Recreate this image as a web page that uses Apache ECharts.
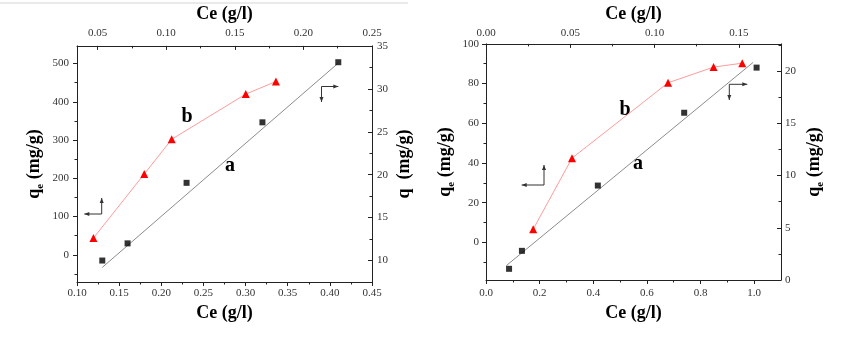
<!DOCTYPE html>
<html>
<head>
<meta charset="utf-8">
<script src="https://cdn.jsdelivr.net/npm/echarts@6/dist/echarts.min.js"></script>
<style>
  html, body { margin: 0; padding: 0; background: #fff; }
  #chart { width: 842px; height: 338px; }
</style>
</head>
<body>
<div id="chart"></div>
<script>
// left panel: b uses top x / left y, a uses bottom x / right y
const leftBX = [0.047, 0.084, 0.104, 0.158, 0.180];
const leftBY = [44, 211, 302, 420, 453];
const leftAX = [0.130, 0.160, 0.230, 0.320, 0.410];
const leftAY = [10.0, 12.0, 19.05, 26.1, 33.1];
const leftFitX = [0.13, 0.41];
const leftFitY = [9.2, 33.0];

// right panel
const rightBX = [0.028, 0.051, 0.108, 0.135, 0.152];
const rightBY = [6.6, 42.4, 80.4, 88.3, 90.3];
const rightAX = [0.086, 0.134, 0.417, 0.739, 1.009];
const rightAY = [1.07, 2.79, 9.04, 16.01, 20.33];
const rightFitX = [0.076, 0.996];
const rightFitY = [1.38, 20.83];

// tick values
const lBottomTicks = [0.10, 0.15, 0.20, 0.25, 0.30, 0.35, 0.40, 0.45];
const lBottomMinor = [0.125, 0.175, 0.225, 0.275, 0.325, 0.375, 0.425];
const lTopTicks = [0.05, 0.10, 0.15, 0.20, 0.25];
const lTopMinor = [0.075, 0.125, 0.175, 0.225];
const lLeftTicks = [0, 100, 200, 300, 400, 500];
const lLeftMinor = [-50, 50, 150, 250, 350, 450];
const lRightTicks = [10, 15, 20, 25, 30, 35];
const lRightMinor = [12.5, 17.5, 22.5, 27.5, 32.5];

const rBottomTicks = [0.0, 0.2, 0.4, 0.6, 0.8, 1.0];
const rBottomMinor = [0.1, 0.3, 0.5, 0.7, 0.9];
const rTopTicks = [0.00, 0.05, 0.10, 0.15];
const rTopMinor = [0.025, 0.075, 0.125];
const rLeftTicks = [0, 20, 40, 60, 80, 100];
const rLeftMinor = [-10, 10, 30, 50, 70, 90];
const rRightTicks = [0, 5, 10, 15, 20];
const rRightMinor = [2.5, 7.5, 12.5, 17.5, 22.5];

const SERIF = '"Liberation Serif", "DejaVu Serif", serif';
const AXIS_COLOR = '#222';

const zip = (xs, ys) => xs.map((x, i) => [x, ys[i]]);

const titleRich = {
  a: { fontFamily: SERIF, fontSize: 18, fontWeight: 'bold', color: '#000' },
  b: { fontFamily: SERIF, fontSize: 11, fontWeight: 'bold', color: '#000', padding: [12, 0, 0, 0] }
};

function axisPair(o) {
  const major = {
    type: 'value', gridIndex: o.grid, position: o.position, min: o.min, max: o.max,
    axisLine: { show: true, onZero: false, lineStyle: { color: AXIS_COLOR, width: 1 } },
    axisTick: { show: true, inside: o.inside, length: 4, customValues: o.major, lineStyle: { color: AXIS_COLOR } },
    axisLabel: {
      show: true, customValues: o.major, margin: o.margin,
      formatter: v => Number(v).toFixed(o.digits),
      fontFamily: SERIF, fontSize: 11, color: '#333'
    },
    splitLine: { show: false },
    name: o.name, nameLocation: 'middle', nameGap: o.nameGap, nameRotate: o.rotate,
    nameTextStyle: { fontFamily: SERIF, fontSize: 18, fontWeight: 'bold', color: '#000', rich: titleRich }
  };
  const minor = {
    type: 'value', gridIndex: o.grid, position: o.position, min: o.min, max: o.max,
    axisLine: { show: false, onZero: false },
    axisTick: { show: true, inside: o.inside, length: 2.5, customValues: o.minor, lineStyle: { color: AXIS_COLOR } },
    axisLabel: { show: false },
    splitLine: { show: false }
  };
  return [major, minor];
}

const xAxis = [
  ...axisPair({ grid: 0, position: 'bottom', min: 0.10, max: 0.45, major: lBottomTicks, minor: lBottomMinor,
    inside: false, margin: 6, digits: 2, name: 'Ce (g/l)', nameGap: 21 }),
  ...axisPair({ grid: 0, position: 'top', min: 0.035, max: 0.25, major: lTopTicks, minor: lTopMinor,
    inside: true, margin: 7, digits: 2, name: 'Ce (g/l)', nameGap: 20 }),
  ...axisPair({ grid: 1, position: 'bottom', min: 0, max: 1.1, major: rBottomTicks, minor: rBottomMinor,
    inside: false, margin: 8, digits: 1, name: 'Ce (g/l)', nameGap: 22 }),
  ...axisPair({ grid: 1, position: 'top', min: 0, max: 0.175, major: rTopTicks, minor: rTopMinor,
    inside: true, margin: 5, digits: 2, name: 'Ce (g/l)', nameGap: 16 })
];

const yAxis = [
  ...axisPair({ grid: 0, position: 'left', min: -71, max: 546, major: lLeftTicks, minor: lLeftMinor,
    inside: false, margin: 8, digits: 0, name: '{a|q}{b|e}{a| (mg/g)}', nameGap: 31, rotate: 90 }),
  ...axisPair({ grid: 0, position: 'right', min: 7.5, max: 35, major: lRightTicks, minor: lRightMinor,
    inside: true, margin: 5, digits: 0, name: '{a|q  (mg/g)}', nameGap: 23, rotate: 90 }),
  ...axisPair({ grid: 1, position: 'left', min: -19, max: 100, major: rLeftTicks, minor: rLeftMinor,
    inside: false, margin: 7, digits: 0, name: '{a|q}{b|e}{a| (mg/g)}', nameGap: 29, rotate: 90 }),
  ...axisPair({ grid: 1, position: 'right', min: 0, max: 22.6, major: rRightTicks, minor: rRightMinor,
    inside: true, margin: 4, digits: 0, name: '{a|q}{b|e}{a| (mg/g)}', nameGap: 22, rotate: 90 })
];

function triSeries(xi, yi, xs, ys) {
  return {
    type: 'line', xAxisIndex: xi, yAxisIndex: yi, data: zip(xs, ys), z: 3,
    symbol: 'triangle', symbolSize: 8, showAllSymbol: true,
    itemStyle: { color: '#ff0000' }, lineStyle: { color: '#ff9c9c', width: 1 }
  };
}
function squareSeries(xi, yi, xs, ys) {
  return {
    type: 'scatter', xAxisIndex: xi, yAxisIndex: yi, data: zip(xs, ys), z: 4,
    symbol: 'rect', symbolSize: 6, itemStyle: { color: '#000' }
  };
}
function fitSeries(xi, yi, xs, ys) {
  return {
    type: 'line', xAxisIndex: xi, yAxisIndex: yi, data: zip(xs, ys), z: 2,
    symbol: 'none', lineStyle: { color: '#8c8c8c', width: 1 }
  };
}

function arrow(cx, cy, hx, vy) {
  // corner (cx,cy), horizontal arm to hx, vertical arm to vy
  const els = [];
  const st = { stroke: '#333', lineWidth: 1, fill: null };
  els.push({ type: 'polyline', shape: { points: [[hx, cy], [cx, cy], [cx, vy]] }, style: st });
  const dh = hx < cx ? 1 : -1;
  els.push({ type: 'polygon', shape: { points: [[hx, cy], [hx + dh * 5, cy - 2], [hx + dh * 5, cy + 2]] }, style: { fill: '#333' } });
  const dv = vy < cy ? 1 : -1;
  els.push({ type: 'polygon', shape: { points: [[cx, vy], [cx - 2, vy + dv * 5], [cx + 2, vy + dv * 5]] }, style: { fill: '#333' } });
  return els;
}

function letter(t, x, y) {
  return { type: 'text', x: x, y: y, style: { text: t, font: 'bold 20px ' + SERIF, fill: '#000', align: 'center', verticalAlign: 'middle' } };
}

const option = {
  backgroundColor: '#fff',
  animation: false,
  grid: [
    { left: 77, top: 42, width: 295, height: 240 },
    { left: 486, top: 38, width: 295, height: 242 }
  ],
  xAxis: xAxis,
  yAxis: yAxis,
  series: [
    fitSeries(0, 2, leftFitX, leftFitY),
    triSeries(2, 0, leftBX, leftBY),
    squareSeries(0, 2, leftAX, leftAY),
    fitSeries(4, 6, rightFitX, rightFitY),
    triSeries(6, 4, rightBX, rightBY),
    squareSeries(4, 6, rightAX, rightAY)
  ],
  graphic: [
    { type: 'line', shape: { x1: 0, y1: 3, x2: 408, y2: 3 }, style: { stroke: '#d4d4d4', lineWidth: 1 } },
    ...arrow(101.7, 214, 84.3, 198),
    ...arrow(321.5, 86.5, 338.3, 102),
    ...arrow(544, 185, 521.7, 165),
    ...arrow(729.3, 84.3, 747.3, 100),
    letter('b', 187, 117),
    letter('a', 230, 166),
    letter('b', 625, 110),
    letter('a', 638, 164)
  ]
};

const chart = echarts.init(document.getElementById('chart'));
chart.setOption(option);
</script>
</body>
</html>
